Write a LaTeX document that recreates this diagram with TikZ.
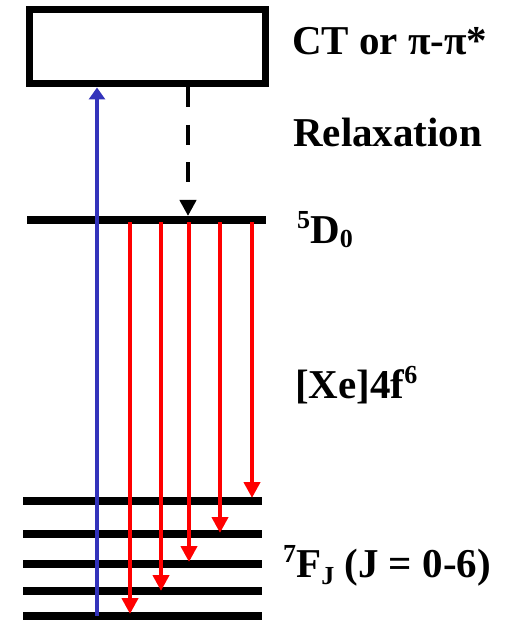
\documentclass[tikz,border=0pt]{standalone}
\usepackage{fontspec}
\setmainfont{Liberation Serif}
\usetikzlibrary{arrows.meta,calc}

\newcommand{\upidx}[1]{\raisebox{15pt}{\fontsize{26}{26}\selectfont #1}}
\newcommand{\dnidx}[1]{\raisebox{-5pt}{\fontsize{26}{26}\selectfont #1}}
\definecolor{pumpblue}{RGB}{51,51,187}

\begin{document}
\begin{tikzpicture}[x=1pt,y=-1pt,
    lvl/.style={line width=7.5pt},
    lab/.style={font=\fontsize{41}{44}\selectfont\bfseries, anchor=base west, inner sep=0pt},
    ems/.style={red, line width=4pt, -{Triangle[length=16pt,width=16pt]}},
    pump/.style={pumpblue, line width=4pt, -{Triangle[length=12pt,width=16pt]}},
    relax/.style={line width=4pt, dash pattern=on 20pt off 17.5pt, -{Triangle[length=16pt,width=16pt]}}]
        \useasboundingbox (0,0) rectangle (525,620);

        \node[draw, line width=7pt, minimum width=236pt, minimum height=74pt, inner sep=0pt] (band) at (147,47) {}; % CT band
        \coordinate (DL) at (27,220); % 5D0
        \coordinate (DR) at (266,220);
        \draw[lvl] (DL) -- (DR);

        % 7F_J levels
        \foreach \y [count=\i] in {501,534,564,591,616} {
            \coordinate (F\i) at (23,\y);
            \draw[lvl] (F\i) -- ++(239,0);
        }

        % excitation and relaxation
        \coordinate (exc) at (97,616);
        \draw[pump] (exc) -- (exc |- band.south);
        \coordinate (rel) at (188,216);
        \draw[relax] (rel |- band.south) -- (rel);

        % emission
        \foreach \x/\yend [count=\i] in {130/614,161/591,189/562,220/533,252/498} {
            \coordinate (e\i) at (\x,222);
            \coordinate (t\i) at (\x,\yend);
            \draw[ems] (e\i) -- (t\i);
        }

        \node[lab] (ct) at (292,55) {CT or π-π*};
        \node[lab] (rx) at (293,147) {Relaxation};
        \node[lab] (d0) at (297,243) {\upidx{5}D\dnidx{0}};
        \node[lab] (xe) at (295,398) {[Xe]4f\upidx{6}};
        \node[lab] (fj) at (283,577) {\upidx{7}F\raisebox{-7pt}{\fontsize{26}{26}\selectfont J} (J = 0-6)};
    \end{tikzpicture}
\end{document}
